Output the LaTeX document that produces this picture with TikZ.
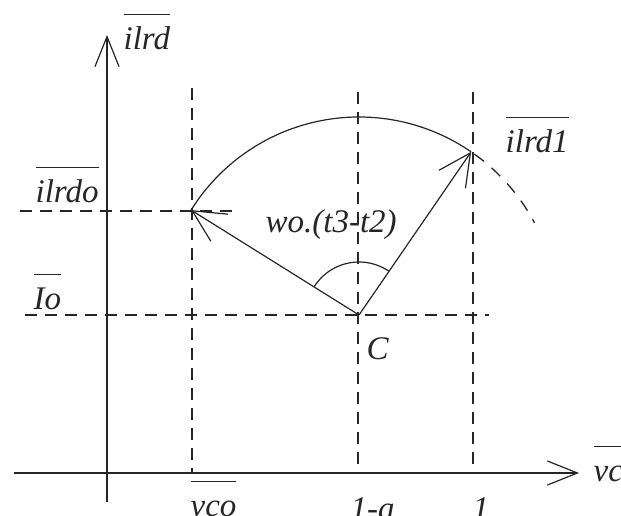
\documentclass[tikz,border=0pt]{standalone}
\usepackage{fontspec}
\setmainfont{Liberation Serif}
\usetikzlibrary{arrows.meta,calc}
\newsavebox\ovlbox
\newcommand\ovl[1]{\sbox\ovlbox{#1}\rlap{\raise1.05em\hbox{\vrule width\wd\ovlbox height 1.5pt depth 0pt}}\usebox\ovlbox}
\definecolor{ink}{HTML}{262626}
\begin{document}
\begin{tikzpicture}[x=1pt,y=1pt,
  line width=1.3pt, draw=ink,
  axis/.style={draw=ink, line width=1.3pt},
  guide/.style={draw=ink, line width=1.3pt, dash pattern=on 12pt off 8pt},
  vec/.style={draw=ink, line width=1.2pt, -{Straight Barb[length=32pt,width=32pt,line width=1.2pt]}},
  axarrow/.style={-{Straight Barb[length=30pt,width=24pt,line width=1.2pt]}},
  lab/.style={anchor=base west, inner sep=0pt, text=ink, font=\fontsize{33}{36}\selectfont\itshape}]
\useasboundingbox (0,0) rectangle (621,516);
\fill[white] (0,0) rectangle (621,516);
% key points
\coordinate (C) at (359,201);
\coordinate (P0) at ($(C)+(148:198)$);
\coordinate (P1) at ($(C)+(55.5:198)$);
% axis ends
\coordinate (ybot) at (107,14);
\coordinate (ytop) at (107,481);
\coordinate (xleft) at (14,43);
\coordinate (xright) at (579,43);
% guide ends
\coordinate (g1t) at (192,428); \coordinate (g1b) at (192,42);
\coordinate (g2t) at (358,424); \coordinate (g2b) at (358,42);
\coordinate (g3t) at (473,424); \coordinate (g3b) at (473,42);
\coordinate (h1l) at (20,305); \coordinate (h1r) at (232,305);
\coordinate (h2l) at (25,201); \coordinate (h2r) at (489,201);
% axes
\draw[axis,axarrow] (ybot) -- (ytop);
\draw[axis,axarrow] (xleft) -- (xright);
% dashed guides
\draw[guide] (g1t) -- (g1b);
\draw[guide] (g2t) -- (g2b);
\draw[guide] (g3t) -- (g3b);
\draw[guide] (h1l) -- (h1r);
\draw[guide] (h2l) -- (h2r);
% big arc and its dashed continuation
\draw[line width=1.2pt] (P0) arc[start angle=148, end angle=55.5, radius=198];
\draw[line width=1.3pt, dash pattern=on 12pt off 10pt, dash phase=-4pt] (P1) arc[start angle=55.5, end angle=28, radius=200];
% vectors
\draw[vec] (C) -- (P0);
\draw[vec] (C) -- (P1);
% angle arc
\draw[line width=1.2pt] ($(C)+(148:53)$) arc[start angle=148, end angle=55.5, radius=53];
% labels
\node[lab] (lilrd) at (123,466) {\ovl{ilrd}};
\node[lab] (lilrdo) at (35,313) {\ovl{ilrdo}};
\node[lab] (lio) at (33,206) {\ovl{Io}};
\node[lab] (lilrdi) at (505,363) {\ovl{ilrd1}};
\node[lab] (lwo) at (265,283) {wo.(t3-t2)};
\node[lab] (lc) at (366,156) {C};
\node[lab] (lvc) at (593,34) {\ovl{vc}};
\node[lab] (lvco) at (190,-1) {\ovl{vco}};
\node[lab] (la) at (350,-4) {1-a};
\node[lab] (lone) at (472,-4) {1};
\end{tikzpicture}
\end{document}
